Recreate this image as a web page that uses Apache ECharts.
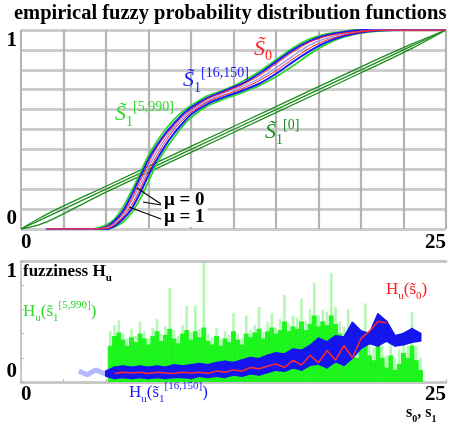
<!DOCTYPE html>
<html>
<head>
<meta charset="utf-8">
<script src="https://cdn.jsdelivr.net/npm/echarts@6/dist/echarts.min.js"></script>
<style>
  html, body { margin: 0; padding: 0; background: #fff; }
  #main { width: 449px; height: 430px; }
</style>
</head>
<body>
<div id="main"></div>
<script>
const title = 'empirical fuzzy probability distribution functions'
const xTicks = [0, 25]
const yTicks = [0, 1]

// top panel: fuzzy distribution functions, sampled at cdfX
const cdfX = [1.5, 3, 4, 4.5, 5, 5.5, 6, 6.5, 7, 7.5, 8, 8.5, 9, 9.5, 10, 11, 12, 13, 14, 15, 16, 17, 18, 19, 20, 21, 22, 23, 25]
const greenUp = [0, 0, 0, 0.005, 0.02, 0.05, 0.11, 0.19, 0.28, 0.37, 0.44, 0.5, 0.55, 0.59, 0.62, 0.67, 0.7, 0.74, 0.79, 0.85, 0.91, 0.955, 0.98, 0.993, 1, 1, 1, 1, 1]
const greenLo = [0, 0, 0, 0, 0, 0.01, 0.035, 0.08, 0.15, 0.24, 0.33, 0.4, 0.46, 0.515, 0.56, 0.62, 0.655, 0.685, 0.72, 0.765, 0.82, 0.88, 0.93, 0.965, 0.985, 0.995, 1, 1, 1]
const blueUp = [0, 0, 0, 0, 0.01, 0.04, 0.09, 0.17, 0.26, 0.35, 0.42, 0.48, 0.53, 0.575, 0.61, 0.66, 0.695, 0.73, 0.78, 0.84, 0.9, 0.945, 0.975, 0.99, 1, 1, 1, 1, 1]
const blueMid = [0, 0, 0, 0, 0.005, 0.025, 0.07, 0.14, 0.22, 0.31, 0.39, 0.455, 0.51, 0.555, 0.595, 0.645, 0.685, 0.715, 0.755, 0.81, 0.87, 0.925, 0.96, 0.98, 0.993, 1, 1, 1, 1]
const blueLo = [0, 0, 0, 0, 0, 0.015, 0.05, 0.1, 0.18, 0.27, 0.35, 0.42, 0.48, 0.53, 0.575, 0.63, 0.665, 0.695, 0.73, 0.78, 0.84, 0.895, 0.94, 0.97, 0.988, 0.997, 1, 1, 1]
const redA = [0, 0, 0, 0, 0.01, 0.03, 0.08, 0.15, 0.24, 0.33, 0.41, 0.47, 0.52, 0.565, 0.6, 0.655, 0.69, 0.725, 0.77, 0.83, 0.89, 0.94, 0.97, 0.985, 0.995, 1, 1, 1, 1]
const redB = [0, 0, 0, 0, 0, 0.02, 0.06, 0.12, 0.2, 0.29, 0.37, 0.44, 0.5, 0.545, 0.585, 0.64, 0.675, 0.705, 0.745, 0.795, 0.855, 0.91, 0.95, 0.975, 0.99, 0.998, 1, 1, 1]

// S1[0]: three almost straight lines
const linX = [0, 1, 2, 5, 10, 15, 20, 23, 25]
const linUp = [0, 0.05, 0.095, 0.215, 0.415, 0.615, 0.815, 0.93, 1]
const linMid = [0, 0.04, 0.08, 0.2, 0.4, 0.6, 0.8, 0.92, 1]
const linLo = [0, 0.02, 0.055, 0.185, 0.385, 0.585, 0.785, 0.908, 1]

// bottom panel: fuzziness
const spikeX = [5.25, 5.5, 5.75, 6, 6.25, 6.5, 6.75, 7, 7.25, 7.5, 7.75, 8, 8.25, 8.5, 8.75, 9, 9.25, 9.5, 9.75, 10,
  10.25, 10.5, 10.75, 11, 11.25, 11.5, 11.75, 12, 12.25, 12.5, 12.75, 13, 13.25, 13.5, 13.75, 14, 14.25, 14.5, 14.75, 15,
  15.25, 15.5, 15.75, 16, 16.25, 16.5, 16.75, 17, 17.25, 17.5, 17.75, 18, 18.25, 18.5, 18.75, 19, 19.25, 19.5, 19.75, 20,
  20.25, 20.5, 20.75, 21, 21.25, 21.5, 21.75, 22, 22.25, 22.5, 22.75, 23, 23.25, 23.5]
const hGreenPeak = [0.42, 0.47, 0.51, 0.4, 0.36, 0.44, 0.38, 0.5, 0.42, 0.36,
  0.45, 0.52, 0.4, 0.46, 0.78, 0.43, 0.38, 0.47, 0.63, 0.41,
  0.63, 0.44, 0.99, 0.4, 0.37, 0.45, 0.35, 0.42, 0.39, 0.57,
  0.4, 0.36, 0.55, 0.43, 0.47, 0.62, 0.41, 0.5, 0.57, 0.45,
  0.52, 0.72, 0.48, 0.55, 0.53, 0.69, 0.5, 0.6, 0.82, 0.55,
  0.6, 0.58, 0.9, 0.62, 0.5, 0.46, 0.6, 0.38, 0.3, 0.42,
  0.65, 0.35, 0.28, 0.45, 0.3, 0.22, 0.32, 0.2, 0.27, 0.35,
  0.3, 0.58, 0.3, 0.2]
const hGreenBody = [0.3, 0.38, 0.41, 0.35, 0.3, 0.37, 0.33, 0.4, 0.36, 0.31,
  0.38, 0.42, 0.34, 0.39, 0.44, 0.36, 0.32, 0.4, 0.43, 0.35,
  0.42, 0.37, 0.45, 0.34, 0.31, 0.38, 0.3, 0.36, 0.33, 0.42,
  0.35, 0.31, 0.4, 0.37, 0.41, 0.44, 0.36, 0.42, 0.45, 0.4,
  0.43, 0.5, 0.42, 0.46, 0.44, 0.5, 0.43, 0.48, 0.55, 0.46,
  0.5, 0.47, 0.55, 0.48, 0.4, 0.36, 0.42, 0.3, 0.2, 0.28,
  0.32, 0.22, 0.18, 0.3, 0.2, 0.12, 0.22, 0.1, 0.15, 0.24,
  0.2, 0.3, 0.18, 0.1]

const tailX = [3.4, 3.9, 4.4, 4.9, 5.3]
const tailY = [0.09, 0.06, 0.1, 0.07, 0.09]
const blueX = [5, 5.5, 6, 6.5, 7, 7.5, 8, 8.5, 9, 9.5, 10, 10.5, 11, 11.5, 12, 12.5, 13, 13.5, 14, 14.5,
  15, 15.5, 16, 16.5, 17, 17.5, 18, 18.5, 19, 19.5, 20, 20.5, 21, 21.5, 22, 22.5, 23, 23.5]
const hBlueLo = [0.05, 0.03, 0.04, 0.03, 0.04, 0.03, 0.04, 0.03, 0.04, 0.04,
  0.03, 0.05, 0.04, 0.05, 0.04, 0.06, 0.05, 0.07, 0.06, 0.08,
  0.1, 0.09, 0.12, 0.1, 0.14, 0.15, 0.12, 0.17, 0.14, 0.2,
  0.28, 0.32, 0.3, 0.34, 0.3, 0.31, 0.33, 0.34]
const hBlueHi = [0.09, 0.12, 0.13, 0.12, 0.13, 0.12, 0.13, 0.12, 0.14, 0.13,
  0.14, 0.15, 0.14, 0.16, 0.17, 0.16, 0.18, 0.2, 0.19, 0.22,
  0.24, 0.23, 0.27, 0.26, 0.3, 0.36, 0.33, 0.38, 0.37, 0.49,
  0.42, 0.4, 0.56, 0.5, 0.38, 0.4, 0.44, 0.4]
const redX = [5.5, 6, 6.5, 7, 7.5, 8, 8.5, 9, 9.5, 10, 10.5, 11, 11.5, 12, 12.5, 13, 13.5, 14, 14.5, 15,
  15.5, 16, 16.5, 17, 17.5, 18, 18.5, 19, 19.5, 20, 20.5, 21, 21.5]
const hRed = [0.07, 0.08, 0.075, 0.08, 0.07, 0.08, 0.075, 0.07, 0.08, 0.075,
  0.08, 0.07, 0.09, 0.08, 0.1, 0.09, 0.12, 0.11, 0.13, 0.15,
  0.12, 0.18, 0.14, 0.22, 0.16, 0.26, 0.18, 0.3, 0.2, 0.36,
  0.42, 0.5, 0.49]

const SERIF = '"Liberation Serif", "DejaVu Serif", serif'
const GREEN = '#2bd82b'
const DKGREEN = '#1c8c1c'
const BLUE = '#1a1aff'
const RED = '#ff1a1a'

const pairs = (xs, ys) => xs.map((x, i) => [x, ys[i]])

const tickLabel = (list) => (v) => (list.indexOf(v) >= 0 ? String(v) : '')

const labelStyle = (list, margin) => ({
  formatter: tickLabel(list),
  fontFamily: SERIF,
  fontWeight: 'bold',
  fontSize: 21,
  color: '#000',
  margin: margin,
  showMinLabel: true,
  showMaxLabel: true
})

const makeRich = (color, size, italic, bold) => ({
  m: { fontFamily: SERIF, fontSize: size, fontStyle: italic ? 'italic' : 'normal', fontWeight: bold ? 'bold' : 'normal', lineHeight: size + 7, fill: color },
  sub: { fontFamily: SERIF, fontSize: Math.round(size * 0.62), fontWeight: bold ? 'bold' : 'normal', lineHeight: Math.round(size * 0.62), verticalAlign: 'bottom', fill: color },
  sup: { fontFamily: SERIF, fontSize: Math.round(size * 0.62), lineHeight: Math.round(size * 0.62), verticalAlign: 'top', fill: color }
})

const note = (left, top, text, color, size, italic, bold) => ({
  type: 'text', left, top, z: 100,
  style: { text, rich: makeRich(color, size, italic, bold), fill: color }
})

const seg = (x1, y1, x2, y2) => ({
  type: 'line', z: 100, shape: { x1, y1, x2, y2 }, style: { stroke: '#000', lineWidth: 1.2 }
})

const curve = (name, ys, color, width) => ({
  name, type: 'line', xAxisIndex: 0, yAxisIndex: 0,
  data: pairs(cdfX, ys), symbol: 'none', smooth: 0.25,
  lineStyle: { color, width }
})

const straight = (name, ys) => ({
  name, type: 'line', xAxisIndex: 0, yAxisIndex: 0,
  data: pairs(linX, ys), symbol: 'none', smooth: 0.3,
  lineStyle: { color: DKGREEN, width: 1.3 }
})

// blue fuzziness band: one quad per step between lower and upper edge
const renderBand = (params, api) => {
  const i = params.dataIndex
  if (i >= blueX.length - 1) return null
  const pts = [
    api.coord([blueX[i], hBlueLo[i]]),
    api.coord([blueX[i + 1], hBlueLo[i + 1]]),
    api.coord([blueX[i + 1], hBlueHi[i + 1]]),
    api.coord([blueX[i], hBlueHi[i]])
  ]
  return {
    type: 'polygon',
    shape: { points: pts },
    style: { fill: '#1515ee', stroke: '#1515ee', lineWidth: 2, lineJoin: 'round' }
  }
}

const myChart = echarts.init(document.getElementById('main'))

const option = {
  animation: false,
  grid: [
    { left: 21, top: 30, width: 425, height: 199 },
    { left: 21, top: 261, width: 425, height: 121 }
  ],
  xAxis: [
    {
      gridIndex: 0, type: 'value', min: 0, max: 25, interval: 2.5,
      axisLine: { show: false }, axisTick: { show: false },
      splitLine: { show: true, lineStyle: { color: '#b4b4b4', width: 2.2 } },
      axisLabel: Object.assign(labelStyle(xTicks, 3), { alignMinLabel: 'left', alignMaxLabel: 'right' })
    },
    {
      gridIndex: 1, type: 'value', min: 0, max: 25, interval: 2.5,
      axisLine: { show: true, lineStyle: { color: '#c8c8c8', width: 3 } },
      axisTick: { show: true, inside: true, length: 3, lineStyle: { color: '#bbb' } },
      splitLine: { show: false },
      axisLabel: Object.assign(labelStyle(xTicks, 2), { alignMinLabel: 'left', alignMaxLabel: 'right' })
    },
    {
      gridIndex: 1, type: 'value', min: 0, max: 25, position: 'top',
      axisLine: { show: true, lineStyle: { color: '#c8c8c8', width: 3 } },
      axisTick: { show: false }, axisLabel: { show: false }, splitLine: { show: false }
    }
  ],
  yAxis: [
    {
      gridIndex: 0, type: 'value', min: 0, max: 1, interval: 0.1,
      axisLine: { show: false }, axisTick: { show: false },
      splitLine: { show: true, lineStyle: { color: '#cdcdcd', width: 3 } },
      axisLabel: Object.assign(labelStyle(yTicks, 4), { verticalAlignMinLabel: 'bottom', verticalAlignMaxLabel: 'top' })
    },
    {
      gridIndex: 1, type: 'value', min: 0, max: 1, interval: 0.2,
      axisLine: { show: true, lineStyle: { color: '#c8c8c8', width: 2 } },
      axisTick: { show: true, inside: true, length: 3, lineStyle: { color: '#bbb' } },
      splitLine: { show: false },
      axisLabel: Object.assign(labelStyle(yTicks, 4), { verticalAlignMinLabel: 'bottom', verticalAlignMaxLabel: 'top' })
    }
  ],
  series: [
    straight('S1[0] up', linUp),
    straight('S1[0]', linMid),
    straight('S1[0] lo', linLo),
    curve('S1[5,990] up', greenUp, GREEN, 1.8),
    curve('S1[5,990] lo', greenLo, GREEN, 1.8),
    curve('S1[16,150] up', blueUp, BLUE, 2),
    curve('S1[16,150] lo', blueLo, BLUE, 2),
    curve('S1[16,150] mid', blueMid, '#9a9aff', 1.4),
    curve('S0 a', redA, RED, 1),
    curve('S0 b', redB, RED, 1),

    {
      name: 'Hu S1[5,990] peaks', type: 'bar', xAxisIndex: 2, yAxisIndex: 1, z: 2,
      data: pairs(spikeX, hGreenPeak), barWidth: 2.6,
      itemStyle: { color: 'rgba(60,235,60,0.38)' }
    },
    {
      name: 'Hu S1[5,990]', type: 'bar', xAxisIndex: 1, yAxisIndex: 1, z: 3,
      data: pairs(spikeX, hGreenBody), barWidth: 5,
      itemStyle: { color: 'rgba(10,245,10,0.88)' }
    },
    {
      name: 'Hu S1[16,150] tail', type: 'line', xAxisIndex: 1, yAxisIndex: 1, z: 5,
      data: pairs(tailX, tailY), symbol: 'none',
      lineStyle: { color: '#b4b8ff', width: 5 }
    },
    {
      name: 'Hu S1[16,150]', type: 'custom', xAxisIndex: 1, yAxisIndex: 1, z: 6,
      data: blueX.map((x, i) => [x, hBlueLo[i], hBlueHi[i]]),
      encode: { x: 0, y: [1, 2] },
      renderItem: renderBand
    },
    {
      name: 'Hu S0', type: 'line', xAxisIndex: 1, yAxisIndex: 1, z: 7,
      data: pairs(redX, hRed), symbol: 'none',
      lineStyle: { color: '#ff2a2a', width: 1.5 }
    }
  ],
  graphic: [
    { type: 'text', left: 14, top: 3, z: 100, style: { text: title, font: 'bold 20.5px ' + SERIF, fill: '#000' } },
    note(254, 38, '{m|S\u0303}{sub|0}', RED, 22, true),
    note(183, 66, '{m|S\u0303}{sub|1}{sup|[16,150]}', BLUE, 22, true),
    note(115, 100, '{m|S\u0303}{sub|1}{sup|[5,990]}', GREEN, 22, true),
    note(265, 118, '{m|S\u0303}{sub|1}{sup|[0]}', DKGREEN, 22, true),
    seg(161, 204, 137, 188),
    seg(161, 205, 143, 202),
    seg(161, 219, 129, 207),
    {
      type: 'text', left: 162, top: 191, z: 100,
      style: { text: '\u03bc = 0\n\u03bc = 1', font: 'bold 19px ' + SERIF, lineHeight: 17, fill: '#000', backgroundColor: '#fff', padding: [1, 3, 1, 2] }
    },
    note(23, 263, '{m|fuzziness H}{sub|u}', '#000', 17, false, true),
    note(23, 300, '{m|H}{sub|u}{m|(s\u0303}{sub|1}{sup|[5,990]}{m|)}', GREEN, 17),
    note(129, 381, '{m|H}{sub|u}{m|(s\u0303}{sub|1}{sup|[16,150]}{m|)}', BLUE, 17),
    note(386, 281, '{m|H}{sub|u}{m|(s\u0303}{sub|0}{m|)}', RED, 17),
    note(406, 405, '{m|s}{sub|0}{m|, s}{sub|1}', '#000', 16, false, true)
  ]
}

myChart.setOption(option)
</script>
</body>
</html>
